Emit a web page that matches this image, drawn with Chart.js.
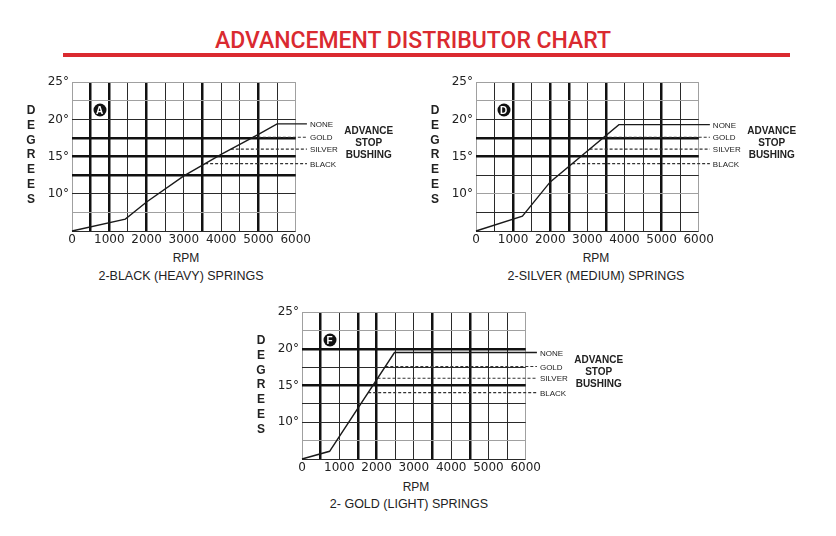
<!DOCTYPE html>
<html>
<head>
<meta charset="utf-8">
<script src="https://cdn.jsdelivr.net/npm/chart.js@4.4.1/dist/chart.umd.min.js"></script>
<style>
  body { margin: 0; background: #fff; }
  #page { position: relative; width: 836px; height: 536px; overflow: hidden;
          font-family: "Liberation Sans", Arial, sans-serif; color: #222; }
  #page canvas { position: absolute; }
  .t { position: absolute; white-space: nowrap; }
  .title { font-family: Roboto, sans-serif; font-weight: 500; font-size: 23px; color: #da2a30;
           left: 413px; top: 40px; transform: translate(-50%, -50%); }
  .bar { position: absolute; left: 63px; top: 53px; width: 727px; height: 4px; background: #da2a30; }
  .deg { font-weight: bold; font-size: 12px; transform: translate(-50%, -50%); }
  .rpm { font-size: 12px; transform: translate(-50%, -50%); }
  .sub { font-size: 12.5px; transform: translate(-50%, -50%); }
  .stop { font-size: 8px; transform: translateY(-50%); }
  .bush { font-weight: bold; font-size: 10px; line-height: 12px; text-align: center; transform: translate(-50%, -50%); }
  .badge { position: absolute; width: 13px; height: 13px; border-radius: 50%; background: #111; color: #fff;
           font-weight: bold; font-size: 10px; line-height: 13px; text-align: center; transform: translate(-50%, -50%); }
</style>
</head>
<body>
<div id="page">
  <div class="t title">ADVANCEMENT DISTRIBUTOR CHART</div>
  <div class="bar"></div>

  <canvas id="chartA" width="291" height="175" style="left:22px;top:72px"></canvas>
  <canvas id="chartD" width="290" height="175" style="left:426px;top:72px"></canvas>
  <canvas id="chartF" width="291" height="173" style="left:252px;top:302px"></canvas>

  <div class="t rpm" style="left:186px;top:258px">RPM</div>
  <div class="t sub" style="left:181px;top:276px">2-BLACK (HEAVY) SPRINGS</div>
  <div class="t rpm" style="left:596px;top:258px">RPM</div>
  <div class="t sub" style="left:596px;top:276px">2-SILVER (MEDIUM) SPRINGS</div>
  <div class="t rpm" style="left:416px;top:487px">RPM</div>
  <div class="t sub" style="left:409px;top:504px">2- GOLD (LIGHT) SPRINGS</div>
</div>

<script>
// rango de ejes
const rpmMin = 0, rpmMax = 6000, rpmStep = 500;
const degMin = 5, degMax = 25, degStep = 2.5;
const xTickLabels = [0, 1000, 2000, 3000, 4000, 5000, 6000];
const yTickLabels = [10, 15, 20, 25];
const yAxisLetters = ["D", "E", "G", "R", "E", "E", "S"];

// topes de avance (bushing) y hasta donde se prolongan las lineas
const stopNames = ["GOLD", "SILVER", "BLACK"];
const stopLevels = [17.6, 16.0, 14.05];
const lineEndRpm = 6300;

// A: 2 resortes negros (heavy)
const rpmA = [0, 1430, 2000, 3000, 4000, 5000, 5500, lineEndRpm];
const degA = [5, 6.6, 8.9, 12.4, 15.3, 18.0, 19.4, 19.4];
const stopStartA = [4850, 4260, 3570];

// D: 2 resortes plateados (medium)
const rpmD = [0, 1250, 2000, 3850, lineEndRpm];
const degD = [5, 7.0, 11.6, 19.3, 19.3];
const stopStartD = [3440, 3060, 2590];

// F: 2 resortes dorados (light)
const rpmF = [0, 740, 2480, lineEndRpm];
const degF = [5, 6.05, 19.5, 19.5];
const stopStartF = [2235, 2025, 1775];

// estilo de la grilla (lineas gruesas / grises) de cada grafico
const gridA = { thickX: [500, 1000, 2000, 3500, 5000], grayX: [0, 6000],
                thickY: [17.5, 15, 12.5], grayY: [25, 22.5, 7.5] };
const gridD = { thickX: [1000, 2000, 2500, 3500, 5000], grayX: [0, 6000],
                thickY: [17.5, 15], grayY: [25, 22.5, 10] };
const gridF = { thickX: [500, 1500, 2000, 3500, 4500], grayX: [0, 6000],
                thickY: [20, 15], grayY: [25, 22.5, 7.5] };

const tickFont = { family: "DejaVu Sans", size: 12 };

function gridStyle(thick, gray) {
  return {
    drawTicks: false,
    color: (c) => thick.includes(c.tick.value) ? "#111" : gray.includes(c.tick.value) ? "#a0a0a0" : "#2a2a2a",
    lineWidth: (c) => thick.includes(c.tick.value) ? 2.5 : 1,
  };
}

function buildChart(canvasId, letter, rpm, deg, stopStart, grid) {
  const canvas = document.getElementById(canvasId);
  const ctx = canvas.getContext("2d");
  const stopSets = stopLevels.map((lv, i) => ({
    data: [{ x: stopStart[i], y: lv }, { x: lineEndRpm, y: lv }],
    borderColor: "#333",
    borderWidth: 1.2,
    borderDash: [3, 2],
  }));
  const chart = new Chart(ctx, {
    type: "line",
    data: {
      datasets: [
        { data: rpm.map((x, i) => ({ x, y: deg[i] })), borderColor: "#1a1a1a", borderWidth: 1.4 },
        ...stopSets,
      ],
    },
    options: {
      responsive: false,
      animation: false,
      layout: { padding: { top: 10, right: 16, left: 0, bottom: 0 } },
      elements: { point: { radius: 0 }, line: { tension: 0 } },
      datasets: { line: { clip: false } },
      plugins: { legend: { display: false }, tooltip: { enabled: false } },
      scales: {
        x: {
          type: "linear", min: rpmMin, max: rpmMax,
          afterFit: (s) => { s.height = 16; },
          border: { display: false },
          grid: gridStyle(grid.thickX, grid.grayX),
          ticks: {
            stepSize: rpmStep, autoSkip: false, maxRotation: 0, padding: 2,
            font: tickFont, color: "#222",
            callback: (v) => xTickLabels.includes(v) ? String(v) : "",
          },
        },
        y: {
          type: "linear", min: degMin, max: degMax,
          afterFit: (s) => { s.width = 50; },
          border: { display: false },
          grid: gridStyle(grid.thickY, grid.grayY),
          ticks: {
            stepSize: degStep, autoSkip: false, padding: 3,
            font: tickFont, color: "#222",
            callback: (v) => yTickLabels.includes(v) ? v + "°" : "",
          },
        },
      },
    },
  });

  // textos alrededor del grafico (posicionados con las escalas)
  const page = document.getElementById("page");
  const ox = canvas.offsetLeft, oy = canvas.offsetTop;
  const area = chart.chartArea;
  const ys = chart.scales.y, xs = chart.scales.x;
  const add = (cls, txt, left, top) => {
    const d = document.createElement("div");
    d.className = cls;
    d.innerHTML = txt;
    d.style.left = left + "px";
    d.style.top = top + "px";
    page.appendChild(d);
  };
  const labelX = ox + xs.getPixelForValue(lineEndRpm) + 3;
  add("t stop", "NONE", labelX, oy + ys.getPixelForValue(deg[deg.length - 1]));
  stopNames.forEach((n, i) => add("t stop", n, labelX, oy + ys.getPixelForValue(stopLevels[i])));
  const midY = oy + (ys.getPixelForValue(stopLevels[0]) + ys.getPixelForValue(stopLevels[1])) / 2;
  add("t bush", "ADVANCE<br>STOP<br>BUSHING", ox + area.right + 73, midY);
  yAxisLetters.forEach((l, i) => add("t deg", l, ox + area.left - 41, oy + area.top + 27.5 + i * 14.9));
  add("badge", letter, ox + area.left + 27.5, oy + area.top + 27.5);
  return chart;
}

buildChart("chartA", "A", rpmA, degA, stopStartA, gridA);
buildChart("chartD", "D", rpmD, degD, stopStartD, gridD);
buildChart("chartF", "F", rpmF, degF, stopStartF, gridF);
</script>
</body>
</html>
